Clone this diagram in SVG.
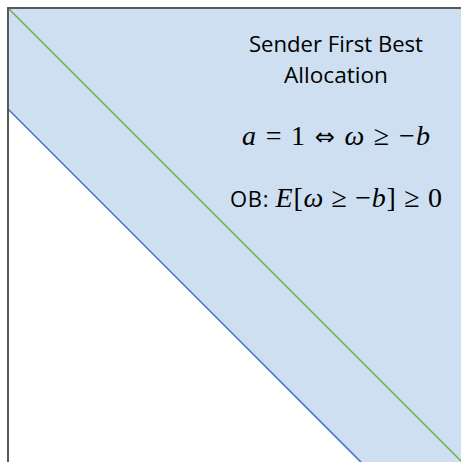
<svg xmlns="http://www.w3.org/2000/svg" width="461" height="462" viewBox="0 0 461 462">
<style>
.lbl{font-family:"Open Sans","Liberation Sans",sans-serif;font-size:22px;fill:#000}
.m{font-family:"Liberation Serif","DejaVu Serif",serif;font-size:28px;fill:#000}
.i{font-style:italic}
.arr{font-family:"DejaVu Sans",sans-serif;font-size:24px}
text{text-anchor:middle}
</style>
<rect width="461" height="462" fill="#fff"/>
<g id="region">
<polygon points="8,8 461,8 461,462 359,462 8,109" fill="#cddff0"/>
</g>
<g id="connectors">
<line x1="8" y1="8" x2="462" y2="462" stroke="#70ad47" stroke-width="1.5"/>
<line x1="8" y1="109" x2="361" y2="462" stroke="#4472c4" stroke-width="1.5"/>
</g>
<g id="axes" fill="none" stroke="#595959" stroke-width="2">
<polyline points="8,462 8,8 461,8"/>
</g>
<g id="label">
<text class="lbl" x="336" y="52" textLength="174" lengthAdjust="spacingAndGlyphs">Sender First Best</text>
<text class="lbl" x="336" y="83" textLength="104" lengthAdjust="spacingAndGlyphs">Allocation</text>
<text class="m" x="336" y="145" textLength="188" lengthAdjust="spacing"><tspan class="i">a</tspan> = 1 <tspan class="arr">⇔</tspan> <tspan class="i">ω</tspan> ≥ −<tspan class="i">b</tspan></text>
<text class="m" x="336" y="207" textLength="212" lengthAdjust="spacing"><tspan class="lbl">OB: </tspan><tspan class="i">E</tspan>[<tspan class="i">ω</tspan> ≥ −<tspan class="i">b</tspan>] ≥ 0</text>
</g>
</svg>
